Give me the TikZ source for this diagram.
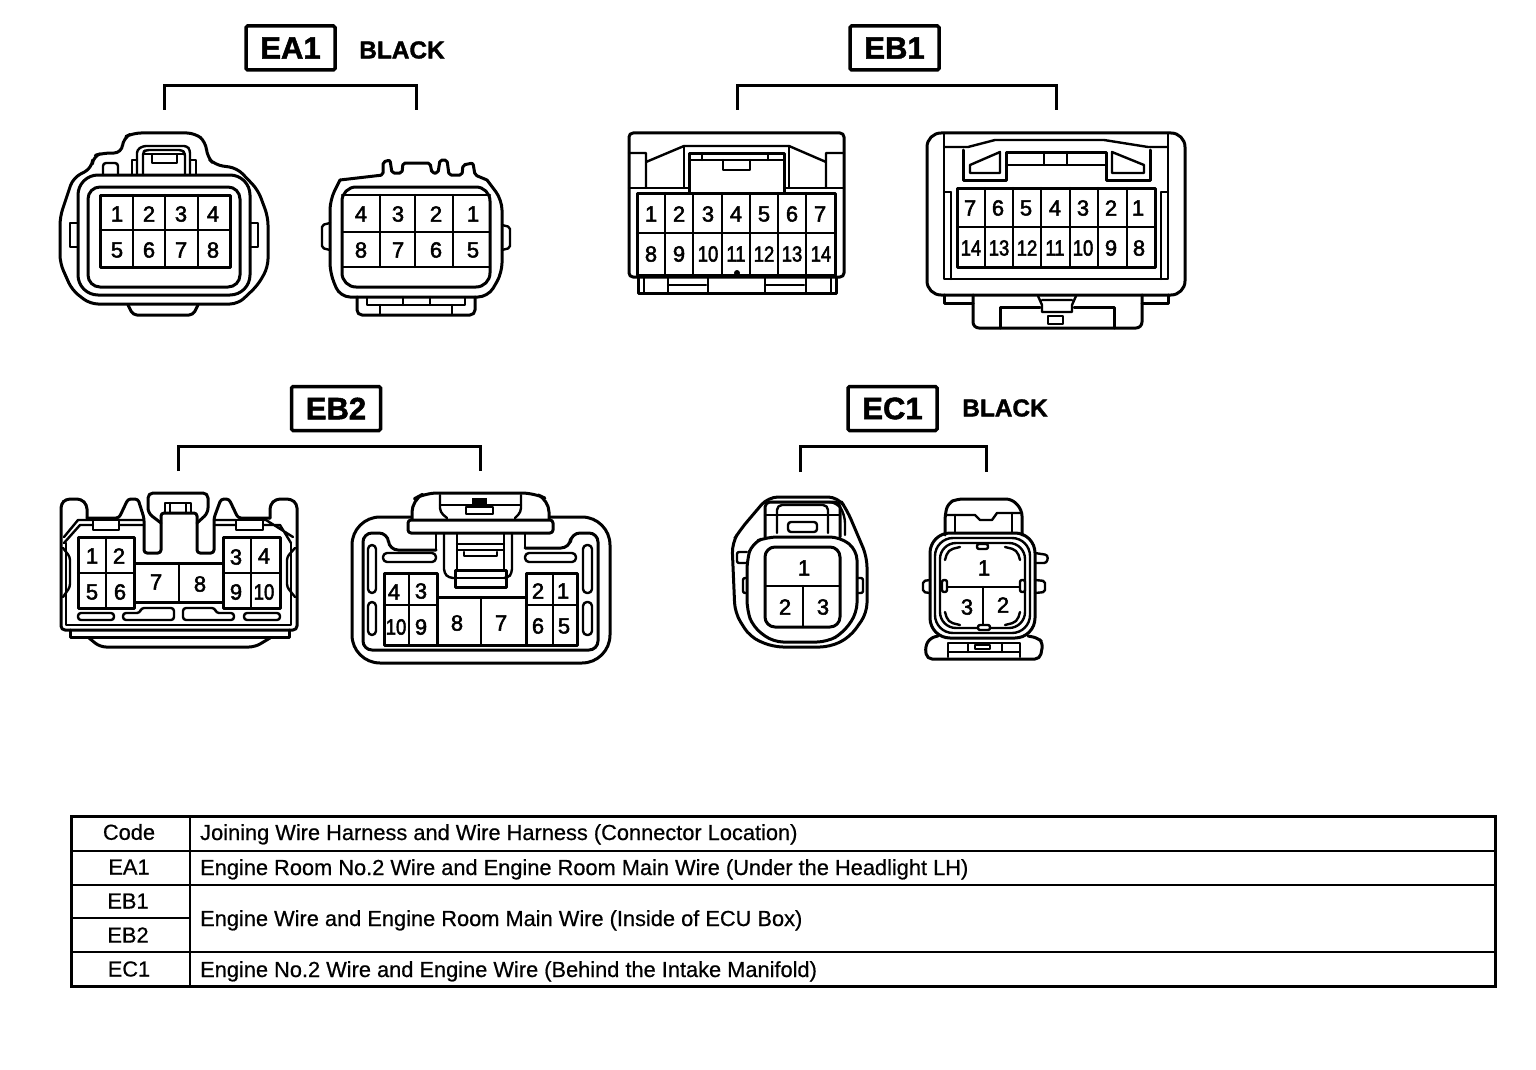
\documentclass[tikz,border=0pt]{standalone}
\usepackage{fontspec}
\setmainfont{Liberation Sans}
\newfontfamily\pinfont[RawFeature={embolden=2.2}]{Liberation Sans}
\newfontfamily\pinsmfont[FakeStretch=0.84,RawFeature={embolden=2.2}]{Liberation Sans}
\newfontfamily\tagfont[RawFeature={embolden=1.6}]{Liberation Sans Bold}
\newfontfamily\tablefont[RawFeature={embolden=0.6}]{Liberation Sans}
\tikzset{
  ln/.style={line width=3pt,line join=round,line cap=round,draw=black},
  thn/.style={line width=2.4pt,line join=round,line cap=round,draw=black},
  rc/.style={rounded corners=#1},
  pinnum/.style={font=\pinfont\fontsize{22}{22}\selectfont,inner sep=0pt,text=black},
  pinsm/.style={font=\pinsmfont\fontsize{22}{22}\selectfont,inner sep=0pt,text=black},
  codebox/.style={draw=black,line width=3.5pt,rounded corners=1.5pt,minimum width=89pt,minimum height=44pt,inner sep=0pt,
     font=\tagfont\fontsize{31}{31}\selectfont},
  colourtag/.style={font=\tagfont\fontsize{24.4}{24.4}\selectfont,inner sep=0pt},
  brk/.style={line width=3pt,line join=miter,line cap=butt,draw=black},
  cell/.style={font=\tablefont\fontsize{21.8}{21.8}\selectfont,inner sep=0pt},
  celltext/.style={font=\tablefont\fontsize{21.8}{21.8}\selectfont,inner sep=0pt,anchor=base west},
}
\begin{document}
\begin{tikzpicture}[x=1pt,y=-1pt]
\useasboundingbox (0,0) rectangle (1536,1070);
\fill[white] (0,0) rectangle (1536,1070);

% ---- code labels
\node[codebox] (ea1) at (290.5,48) {EA1};
\node[colourtag] (ea1c) at (402,50) {BLACK};
\node[codebox] (eb1) at (894.5,48) {EB1};
\node[codebox] (eb2) at (336,408.5) {EB2};
\node[codebox] (ec1) at (892.5,408.5) {EC1};
\node[colourtag] (ec1c) at (1005,408) {BLACK};

% ---- brackets
\coordinate (ea1a) at (164,110); \coordinate (ea1b) at (416,110);
\coordinate (eb1a) at (737,110); \coordinate (eb1b) at (1056,110);
\coordinate (eb2a) at (178,471); \coordinate (eb2b) at (480,471);
\coordinate (ec1a) at (800,472); \coordinate (ec1b) at (986,472);
\draw[brk] (ea1a) -- ++(0,-24) -| (ea1b);
\draw[brk] (eb1a) -- ++(0,-24) -| (eb1b);
\draw[brk] (eb2a) -- ++(0,-25) -| (eb2b);
\draw[brk] (ec1a) -- ++(0,-26) -| (ec1b);

% ================ EA1 left
\draw[ln,rc=8pt] (92,168) -- (93,156) -- (103,153) -- (122,153) -- (123,138) -- (133,133) -- (195,133) -- (206,142) -- (207,157) -- (215,165) -- (237,168) -- (258,190) -- (268,217) -- (268,267) -- (258,285) -- (238,304) -- (90,304) -- (72,290) -- (60,263) -- (60,217) -- (73,178) -- cycle;
\draw[ln,rounded corners=20pt] (78,175) rectangle (250,295);
\draw[ln,rounded corners=12pt] (88,187) rectangle (240,287);
\draw[ln] (100,195) rectangle (230,267);
\draw[thn] (100,230) -- (230,230) (133,195) -- (133,267) (165,195) -- (165,267) (198,195) -- (198,267);
\draw[thn,rc=3pt] (137,175) -- (137,150) -- (143,146) -- (187,146) -- (190,150) -- (190,175);
\draw[thn,rc=3pt] (143,175) -- (143,152) -- (146,150) -- (182,150) -- (185,153) -- (185,175);
\draw[thn] (143,154) -- (185,154) (152,154) rectangle (177,163);
\draw[thn] (137,160) -- (132,160) -- (132,175) (190,160) -- (196,160) -- (196,175);
\draw[thn,rc=3pt] (103,175) -- (103,163) -- (118,163) -- (118,175);
\draw[thn] (78,223) -- (70,223) -- (70,247) -- (78,247);
\draw[thn] (250,223) -- (258,223) -- (258,247) -- (250,247);
\draw[ln,rc=4pt] (128,305) -- (133,315) -- (193,315) -- (198,305);
\foreach \t/\x/\y in {1/117/214,2/149/214,3/181/214,4/213/214,5/117/250,6/149/250,7/181/250,8/213/250}
  \node[pinnum] (ea1l\t) at (\x,\y) {\t};

% ================ EA1 right
\draw[ln,rc=2pt] (340,180) -- (383,175) -- (383,162) -- (390,160) -- (392,173) -- (402,173) -- (403,163) -- (430,163) -- (432,173) -- (438,173) -- (440,160) -- (447,160) -- (449,175) -- (462,175) -- (463,165) -- (473,163) -- (475,175) -- (487,180);
\draw[ln,rc=10pt] (487,180) -- (502,200) -- (502,273) -- (488,297) -- (340,297) -- (330,273) -- (330,200) -- (340,180);
\draw[ln,rounded corners=14pt] (342,187) rectangle (490,287);
\draw[thn] (342,195) -- (490,195) (342,232) -- (490,232) (342,267) -- (490,267);
\draw[thn] (380,195) -- (380,267) (415,195) -- (415,267) (453,195) -- (453,267);
\draw[thn,rc=2pt] (330,223) -- (322,225) -- (322,248) -- (330,250);
\draw[thn,rc=2pt] (502,225) -- (510,227) -- (510,248) -- (502,250);
\draw[ln,rc=5pt] (357,297) -- (357,315) -- (475,315) -- (475,297);
\draw[thn] (367,297) -- (367,305) -- (465,305) -- (465,297);
\draw[thn] (403,297) -- (403,305) (430,297) -- (430,305) (380,305) -- (380,315) (452,305) -- (452,315);
\foreach \t/\x/\y in {4/361/214,3/398/214,2/436/214,1/473/214,8/361/250,7/398/250,6/436/250,5/473/250}
  \node[pinnum] (ea1r\t) at (\x,\y) {\t};

% ================ EB1 left
\draw[ln,rc=4pt] (629,277) -- (629,133) -- (844,133) -- (844,277) -- cycle;
\draw[ln] (638,277) -- (638,293) -- (836,293) -- (836,277);
\draw[thn] (644,277) -- (644,293) (668,277) -- (668,293) (708,277) -- (708,293) (765,277) -- (765,293) (806,277) -- (806,293) (831,277) -- (831,293);
\draw[thn] (668,285) -- (706,285) (765,285) -- (804,285);
\draw[thn] (629,153) -- (646,153) -- (646,188) (646,162) -- (684,146) -- (789,146) -- (826,162) (826,188) -- (826,153) -- (844,153);
\draw[thn] (684,146) -- (684,188) (789,146) -- (789,188);
\draw[ln] (689,192) -- (689,153) -- (784,153) -- (784,192);
\draw[thn] (689,160) -- (784,160) (702,153) -- (702,160) (768,153) -- (768,160);
\draw[thn] (723,160) -- (723,170) -- (750,170) -- (750,160);
\draw[thn] (629,188) -- (689,188) (784,188) -- (844,188);
\draw[ln] (637,193) rectangle (835,275);
\draw[thn] (637,233) -- (835,233);
\foreach \x in {665,693,722,750,778,806} \draw[thn] (\x,193) -- (\x,275);
\fill (737,273) circle (3pt);
\foreach \t/\x in {1/651,2/679,3/708,4/736,5/764,6/792,7/820}
  \node[pinnum] (eb1l\t) at (\x,214) {\t};
\foreach \t/\x in {8/651,9/679}
  \node[pinnum] (eb1l\t) at (\x,254) {\t};
\foreach \t/\x in {10/708,11/736,12/764,13/792,14/821}
  \node[pinsm] (eb1l\t) at (\x,254) {\t};

% ================ EB1 right
\draw[ln,rounded corners=14pt] (927,133) rectangle (1185,295);
\draw[thn] (944,133) -- (944,279) -- (1168,279) -- (1168,133);
\draw[thn] (951,192) -- (951,279) (1161,192) -- (1161,279) (944,192) -- (951,192) (1161,192) -- (1168,192);
\draw[ln] (957,188) rectangle (1155,267);
\draw[thn] (957,227) -- (1155,227);
\foreach \x in {985,1013,1041,1070,1098,1127} \draw[thn] (\x,188) -- (\x,267);
\draw[thn] (944,147) -- (968,147) -- (995,140) -- (1104,140) -- (1148,147) -- (1168,147);
\draw[ln] (963,150) -- (963,180) -- (1006,180) -- (1006,152) -- (1106,152) -- (1106,180) -- (1150,180) -- (1150,150);
\draw[thn] (970,165) -- (1000,152) -- (1000,173) -- (970,173) -- cycle;
\draw[thn] (1112,152) -- (1144,165) -- (1144,173) -- (1112,173) -- cycle;
\draw[thn] (1006,165) -- (1106,165) (1044,152) -- (1044,165) (1067,152) -- (1067,165);
\draw[ln] (944,295) -- (944,303) -- (973,303);
\draw[ln] (1142,303) -- (1168,303) -- (1168,295);
\draw[ln,rc=6pt] (973,295) -- (973,328) -- (1142,328) -- (1142,295);
\draw[ln] (1000,328) -- (1000,307) -- (1040,307) (1074,307) -- (1114,307) -- (1114,328);
\draw[thn] (1038,296) -- (1042,305) -- (1042,312) -- (1072,312) -- (1072,305) -- (1076,296) (1042,300) -- (1072,300);
\draw[thn] (1048,316) rectangle (1063,324);
\foreach \t/\x in {7/970,6/998,5/1026,4/1055,3/1083,2/1111,1/1138}
  \node[pinnum] (eb1r\t) at (\x,208) {\t};
\foreach \t/\x in {14/971,13/999,12/1027,11/1055,10/1083}
  \node[pinsm] (eb1r\t) at (\x,248) {\t};
\foreach \t/\x in {9/1111,8/1139}
  \node[pinnum] (eb1r\t) at (\x,248) {\t};

% ================ EB2 left
\draw[ln,rc=4pt] (87,518) -- (87,505) -- (81,499) -- (66,499) -- (61,504) -- (61,630) -- (297,630) -- (297,504) -- (291,499) -- (276,499) -- (270,505) -- (270,518);
\draw[ln,rc=3pt] (87,518) -- (119,518) -- (128,499) -- (138,499) -- (144,518) -- (144,553) -- (161,553) -- (161,513) -- (197,513) -- (197,553) -- (214,553) -- (214,518) -- (221,499) -- (229,499) -- (238,518) -- (270,518);
\draw[ln,rc=5pt] (161,523) -- (148,513) -- (148,493) -- (208,493) -- (208,513) -- (197,523);
\draw[thn] (165,513) -- (165,503) -- (191,503) -- (191,513) (170,503) -- (170,513) (186,503) -- (186,513);
\draw[thn] (64,537) -- (78,520) -- (93,520) (119,520) -- (144,520) (64,543) -- (80,525) -- (93,525);
\draw[thn] (293,537) -- (266,520) -- (263,520) (236,520) -- (214,520) (291,543) -- (280,525) -- (263,525) (119,525) -- (144,525) (236,525) -- (214,525);
\draw[thn] (93,520) rectangle (119,530) (236,520) rectangle (263,530);
\draw[thn,rc=3pt] (63,548) -- (70,557) -- (70,587) -- (63,597);
\draw[thn,rc=3pt] (295,548) -- (287,557) -- (287,587) -- (295,597);
\draw[thn] (66,543) -- (66,625) -- (291,625) -- (291,543);
\draw[ln] (134,563) rectangle (223,602);
\draw[ln] (78,537) rectangle (134,608);
\draw[ln] (223,537) rectangle (280,608);
\draw[thn] (78,573) -- (134,573) (106,537) -- (106,608) (223,573) -- (280,573) (251,537) -- (251,608) (179,563) -- (179,602);
\draw[thn,rc=3pt] (78,613) rectangle (114,620);
\draw[thn,rc=3pt] (244,613) rectangle (280,620);
\draw[thn,rc=3pt] (123,620) -- (123,613) -- (140,613) -- (141,608) -- (174,608) -- (174,620) -- cycle;
\draw[thn,rc=3pt] (234,620) -- (234,613) -- (216,613) -- (215,608) -- (183,608) -- (183,620) -- cycle;
\draw[ln] (70,630) -- (70,637) -- (289,637) -- (289,630);
\draw[ln,rc=6pt] (89,638) -- (100,647) -- (255,647) -- (270,638);
\foreach \t/\x/\y in {1/92/556,2/119/556,5/92/592,6/120/592,7/156/582,8/200/584,3/236/557,4/264/556,9/236/592}
  \node[pinnum] (eb2l\t) at (\x,\y) {\t};
\node[pinsm] (eb2l10) at (264,592) {10};

% ================ EB2 right
\draw[ln,rounded corners=28pt] (352,517) rectangle (610,663);
\draw[fill=white,ln,rc=12pt] (412,520) -- (412,500) -- (425,493) -- (534,493) -- (549,500) -- (549,520);
\draw[ln,fill=white,rc=3pt] (408,520) rectangle (553,533);
\draw[thn,rc=4pt] (440,495) -- (440,512) -- (447,518) (521,495) -- (521,512) -- (515,518);
\draw[thn] (440,505) -- (521,505);
\fill (472,498) rectangle (487,505);
\draw[thn] (466,507) rectangle (493,514);
\draw[ln,rc=9pt] (436,550) -- (389,550) -- (388,533) -- (363,533) -- (363,650) -- (598,650) -- (598,533) -- (571,533) -- (570,548) -- (525,548);
\draw[thn] (436,533) -- (436,550) (525,533) -- (525,548);
\draw[thn,rc=4pt] (444,533) -- (444,573) -- (449,578) -- (455,578) (512,533) -- (512,573) -- (508,578) -- (506,578);
\draw[thn] (457,533) -- (457,570) (504,533) -- (504,570) (457,544) -- (504,544) (457,550) -- (504,550);
\draw[thn] (464,552) -- (464,556) -- (497,556) -- (497,552);
\draw[ln] (455,570) rectangle (506,587);
\draw[thn] (455,578) -- (506,578);
\draw[thn,rounded corners=4pt] (383,553) rectangle (436,562);
\draw[thn,rounded corners=4pt] (525,553) rectangle (576,562);
\draw[thn,rounded corners=4pt] (368,545) rectangle (376,593);
\draw[thn,rounded corners=4pt] (368,602) rectangle (376,635);
\draw[thn,rounded corners=4pt] (583,545) rectangle (592,593);
\draw[thn,rounded corners=4pt] (583,602) rectangle (592,635);
\draw[ln] (437,597) rectangle (526,645);
\draw[ln] (384,573) rectangle (437,645);
\draw[ln] (526,573) rectangle (577,645);
\draw[thn] (384,605) -- (437,605) (409,573) -- (409,645) (526,605) -- (577,605) (553,573) -- (553,645) (481,597) -- (481,645);
\foreach \t/\x/\y in {4/394/592,3/421/591,9/421/627,8/457/623,7/501/623,2/538/591,1/563/591,6/538/626,5/564/626}
  \node[pinnum] (eb2r\t) at (\x,\y) {\t};
\node[pinsm] (eb2r10) at (396,627) {10};

% ================ EC1 left
\draw[ln,rc=10pt] (768,497) -- (838,497) -- (847,510) -- (867,557) -- (867,613) -- (850,637) -- (830,647) -- (773,647) -- (750,637) -- (735,613) -- (732,543) -- (740,530) -- cycle;
\draw[thn,rc=8pt] (770,502) -- (837,502) -- (845,515) -- (845,535);
\draw[ln,rc=10pt] (752,543) -- (767,537) -- (840,537) -- (857,550) -- (857,613) -- (843,633) -- (827,642) -- (773,642) -- (753,627) -- (747,610) -- (747,560) -- cycle;
\draw[ln,rc=5pt] (765,537) -- (765,502) -- (840,502) -- (840,537);
\draw[thn] (765,515) -- (840,515);
\draw[thn,rc=5pt] (777,533) -- (777,505) -- (828,505) -- (828,533);
\draw[thn,rounded corners=3pt] (788,522) rectangle (817,532);
\draw[ln,rounded corners=10pt] (765,547) rectangle (840,627);
\draw[thn] (765,586) -- (840,586) (803,586) -- (803,627);
\draw[thn,rc=2pt] (747,552) -- (737,552) -- (737,563) -- (747,563);
\draw[thn,rc=2pt] (747,578) -- (743,578) -- (743,593) -- (747,593);
\draw[thn,rc=2pt] (857,578) -- (863,578) -- (863,593) -- (857,593);
\foreach \t/\x/\y in {1/804/568,2/785/607,3/823/607}
  \node[pinnum] (ec1l\t) at (\x,\y) {\t};

% ================ EC1 right
\draw[ln,rounded corners=20pt] (930,533) rectangle (1035,638);
\draw[thn,rounded corners=18pt] (935,538) rectangle (1030,633);
\draw[thn,rounded corners=16pt] (940,543) rectangle (1025,628);
\draw[ln,rc=6pt] (945,535) -- (945,515) -- (948,503) -- (957,499) -- (1012,499) -- (1022,510) -- (1022,535);
\draw[thn] (945,515) -- (975,515) -- (980,520) -- (992,520) -- (997,513) -- (1022,513);
\draw[thn] (955,515) -- (955,533) (1012,513) -- (1012,533);
\draw[thn,rc=3pt] (1035,553) -- (1048,555) -- (1047,563) -- (1035,563);
\draw[thn,rc=2pt] (930,580) -- (923,581) -- (923,592) -- (930,593);
\draw[thn,rc=2pt] (1035,580) -- (1045,581) -- (1045,592) -- (1035,593);
\draw[thn] (945,587) -- (1023,587) (983,587) -- (983,628);
\draw[thn,fill=white,rounded corners=2pt] (977,544) rectangle (988,549);
\draw[thn,fill=white,rounded corners=2pt] (978,625) rectangle (990,630);
\draw[thn,fill=white,rounded corners=2pt] (942,580) rectangle (947,592);
\draw[thn,fill=white,rounded corners=2pt] (1020,580) rectangle (1025,592);
\draw[thn,rc=5pt] (945,560) -- (948,550) -- (960,547);
\draw[thn,rc=5pt] (1020,560) -- (1017,550) -- (1005,547);
\draw[thn,rc=5pt] (945,612) -- (948,622) -- (960,625);
\draw[thn,rc=5pt] (1020,612) -- (1017,622) -- (1005,625);
\draw[ln,rc=5pt] (938,636) -- (930,638) -- (925,647) -- (927,659) -- (1040,659) -- (1043,643) -- (1038,638) -- (1028,636);
\draw[thn] (948,657) -- (948,643) -- (1020,643) -- (1020,657) (948,652) -- (1020,652) (968,643) -- (968,652) (1002,643) -- (1002,652);
\draw[thn] (975,645) rectangle (990,649);
\foreach \t/\x/\y in {1/984/568,3/967/607,2/1003/605}
  \node[pinnum] (ec1r\t) at (\x,\y) {\t};

% ================ table
\draw[line width=3pt] (71,816) rectangle (1495,986);
\draw[line width=2.5pt] (190,816) -- (190,986);
\draw[line width=2.5pt] (71,851) -- (1495,851) (71,885) -- (1495,885) (71,918) -- (190,918) (71,952) -- (1495,952);
\node[cell] (c0) at (129,832) {Code};
\node[cell] (c1) at (129,867) {EA1};
\node[cell] (c2) at (128,901) {EB1};
\node[cell] (c3) at (128,935) {EB2};
\node[cell] (c4) at (129,969) {EC1};
\node[celltext] (t0) at (200,840) {Joining Wire Harness and Wire Harness (Connector Location)};
\node[celltext] (t1) at (200,875) {Engine Room No.2 Wire and Engine Room Main Wire (Under the Headlight LH)};
\node[celltext] (t2) at (200,926) {Engine Wire and Engine Room Main Wire (Inside of ECU Box)};
\node[celltext] (t3) at (200,977) {Engine No.2 Wire and Engine Wire (Behind the Intake Manifold)};
\end{tikzpicture}
\end{document}
